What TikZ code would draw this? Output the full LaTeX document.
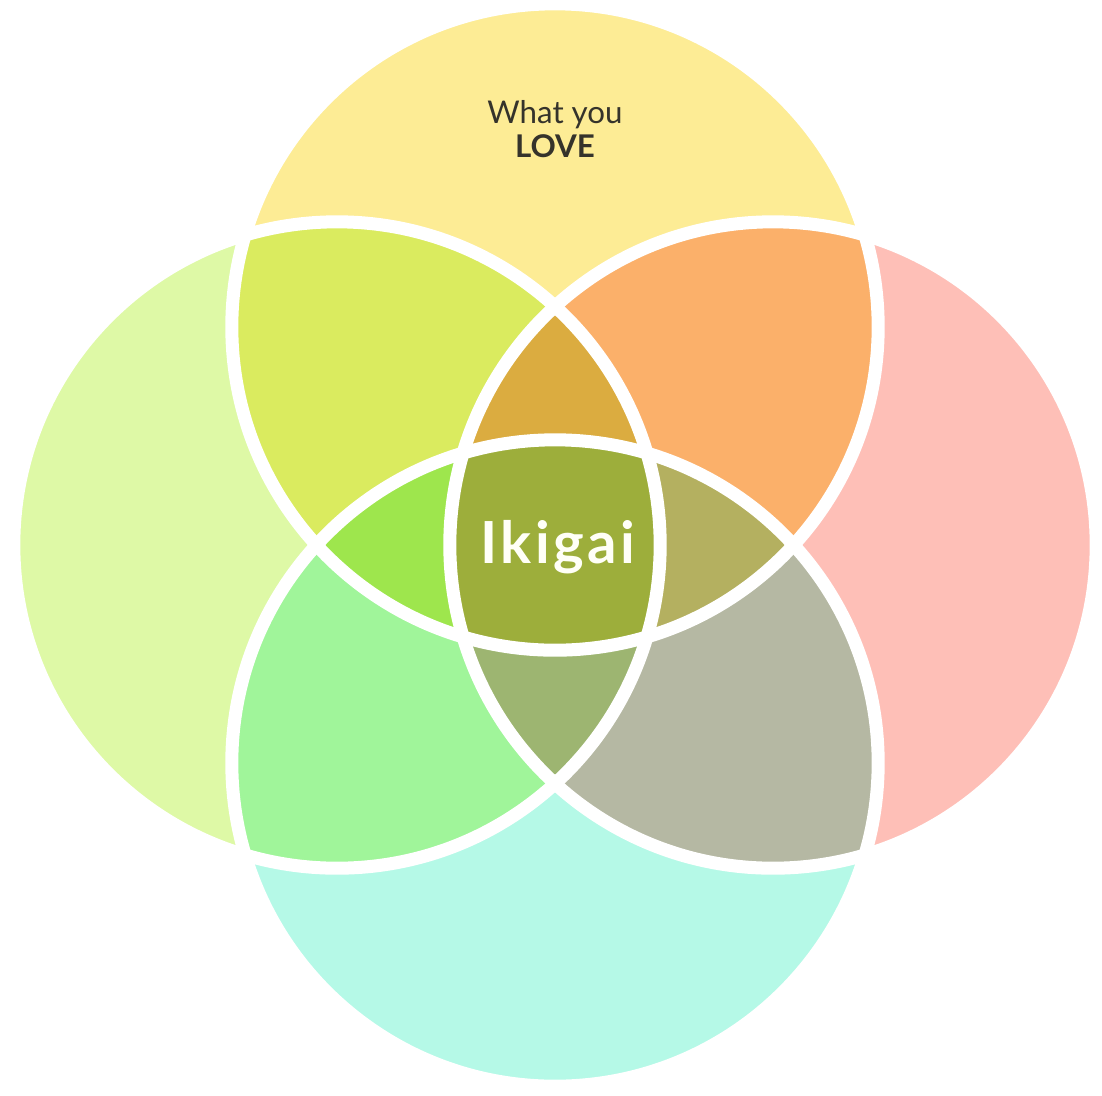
\documentclass[tikz,border=0pt]{standalone}
\usepackage{fontspec}
\setmainfont{Lato}
\usepackage{tikz}
\definecolor{loveyel}{HTML}{FDEC95}
\definecolor{goodgrn}{HTML}{DEF9A6}
\definecolor{needpnk}{HTML}{FEBFB7}
\definecolor{paidmnt}{HTML}{B5F9E7}
\definecolor{lovegood}{HTML}{DAEB5F}
\definecolor{loveneed}{HTML}{FBB06A}
\definecolor{goodpaid}{HTML}{A0F59A}
\definecolor{needpaid}{HTML}{B5B8A3}
\definecolor{upper}{HTML}{DBAC40}
\definecolor{leftmid}{HTML}{9EE64D}
\definecolor{rightmid}{HTML}{B4B060}
\definecolor{lower}{HTML}{9DB571}
\definecolor{core}{HTML}{9DAE3B}
\definecolor{labeltxt}{HTML}{35332B}
\newcommand{\rad}{3.23cm}

\begin{document}
\begin{tikzpicture}[
x=0.01cm, y=-0.01cm,
ring/.style={draw=white, line width=0.13cm},
label/.style={align=center, text=labeltxt, font=\fontsize{8.9}{9.5}\selectfont},
core label/.style={anchor=base, text=white!97!yellow, font=\fontsize{16.5}{18}\selectfont\bfseries\addfontfeatures{LetterSpace=6}}
]
\useasboundingbox (0,0) rectangle (1102,1096);
\coordinate (love) at (555,327);
\coordinate (good) at (337,545);
\coordinate (need) at (773,545);
\coordinate (paid) at (555,763);

\fill[loveyel] (love) circle[radius=\rad];
\fill[goodgrn] (good) circle[radius=\rad];
\fill[needpnk] (need) circle[radius=\rad];
\fill[paidmnt] (paid) circle[radius=\rad];

\begin{scope}
\clip (love) circle[radius=\rad];
\fill[lovegood] (good) circle[radius=\rad];
\fill[loveneed] (need) circle[radius=\rad];
\end{scope}
\begin{scope}
\clip (paid) circle[radius=\rad];
\fill[goodpaid] (good) circle[radius=\rad];
\fill[needpaid] (need) circle[radius=\rad];
\end{scope}
\begin{scope}
\clip (good) circle[radius=\rad];
\clip (need) circle[radius=\rad];
\fill[upper] (love) circle[radius=\rad];
\fill[lower] (paid) circle[radius=\rad];
\end{scope}
\begin{scope}
\clip (love) circle[radius=\rad];
\clip (paid) circle[radius=\rad];
\fill[leftmid] (good) circle[radius=\rad];
\fill[rightmid] (need) circle[radius=\rad];
\end{scope}
\begin{scope}
\clip (love) circle[radius=\rad];
\clip (paid) circle[radius=\rad];
\clip (good) circle[radius=\rad];
\fill[core] (need) circle[radius=\rad];
\end{scope}

\foreach \c in {love,good,need,paid}
  \draw[ring] (\c) circle[radius=\rad];

\node[label] (lovetext) at (555,129) {What you\\\textbf{LOVE}};
\node[core label] (ikigai) at (558,563) {Ikigai};
\end{tikzpicture}
\end{document}
